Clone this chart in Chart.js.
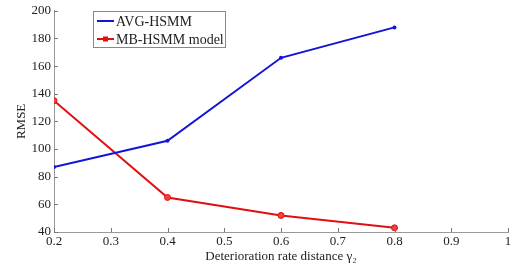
<!DOCTYPE html>
<html>
<head>
<meta charset="utf-8">
<script src="https://cdn.jsdelivr.net/npm/chart.js@4/dist/chart.umd.min.js"></script>
<style>
  html, body { margin: 0; padding: 0; background: #fff; }
  #wrap { width: 522px; height: 264px; }
</style>
</head>
<body>
<div id="wrap"><canvas id="rmseChart"></canvas></div>
<script>
var distances = [0.2, 0.4, 0.6, 0.8];
var avgHsmm = [87, 106, 166, 188];
var mbHsmm = [135, 65, 52, 43];
var seriesNames = ['AVG-HSMM', 'MB-HSMM model'];

var serif = '"Liberation Serif", "Times New Roman", serif';

// inward tick marks, like matlab
var innerTicks = {
    id: 'innerTicks',
    afterDraw: function(chart) {
        var ctx = chart.ctx, x = chart.scales.x, y = chart.scales.y;
        ctx.save();
        ctx.strokeStyle = '#777';
        ctx.lineWidth = 1;
        ctx.beginPath();
        x.ticks.forEach(function(t, i) {
            var px = Math.round(x.getPixelForTick(i)) + 0.5;
            ctx.moveTo(px, y.bottom);
            ctx.lineTo(px, y.bottom - 4);
        });
        y.ticks.forEach(function(t, i) {
            var py = Math.round(y.getPixelForTick(i)) + 0.5;
            ctx.moveTo(x.left, py);
            ctx.lineTo(x.left + 4, py);
        });
        ctx.stroke();
        ctx.restore();
    }
};

// boxed legend in upper left of the plot
var boxLegend = {
    id: 'boxLegend',
    afterDraw: function(chart) {
        var ctx = chart.ctx;
        var bx = 93, by = 11, bw = 132, bh = 36;
        ctx.save();
        ctx.fillStyle = '#fff';
        ctx.fillRect(bx, by, bw, bh);
        ctx.strokeStyle = '#888';
        ctx.lineWidth = 1;
        ctx.strokeRect(bx + 0.5, by + 0.5, bw, bh);
        ctx.font = '14px ' + serif;
        ctx.textBaseline = 'middle';
        chart.data.datasets.forEach(function(ds, i) {
            var ly = by + 10 + i * 18;
            ctx.strokeStyle = ds.borderColor;
            ctx.lineWidth = 2;
            ctx.beginPath();
            ctx.moveTo(97, ly);
            ctx.lineTo(114, ly);
            ctx.stroke();
            if (ds.pointRadius > 2) {
                ctx.fillStyle = ds.borderColor;
                ctx.fillRect(103, ly - 2.5, 5, 5);
            }
            ctx.fillStyle = '#222';
            ctx.fillText(ds.label, 116, ly + 1);
        });
        ctx.restore();
    }
};

var chart = new Chart(document.getElementById('rmseChart').getContext('2d'), {
    type: 'line',
    data: {
        datasets: [{
            label: seriesNames[0],
            data: distances.map(function(d, i) { return { x: d, y: avgHsmm[i] }; }),
            borderColor: '#1414d8',
            backgroundColor: '#1414d8',
            borderWidth: 2,
            pointRadius: 2,
            pointBorderWidth: 0,
            tension: 0
        }, {
            label: seriesNames[1],
            data: distances.map(function(d, i) { return { x: d, y: mbHsmm[i] }; }),
            borderColor: '#e01010',
            backgroundColor: '#f04040',
            borderWidth: 2,
            pointRadius: 3,
            pointBorderWidth: 1,
            tension: 0
        }]
    },
    options: {
        responsive: true,
        maintainAspectRatio: false,
        animation: false,
        layout: { padding: { left: 0, right: 14, top: 10, bottom: 0 } },
        plugins: { legend: { display: false }, tooltip: { enabled: false } },
        scales: {
            x: {
                type: 'linear',
                min: 0.2,
                max: 1,
                afterFit: function(s) { s.height = 32; },
                border: { color: '#999', width: 1 },
                grid: { drawOnChartArea: false, drawTicks: false },
                ticks: {
                    stepSize: 0.1,
                    padding: 2,
                    color: '#222',
                    font: { family: serif, size: 13 },
                    callback: function(v) { return v === 1 ? '1' : (+v).toFixed(1); }
                },
                title: {
                    display: true,
                    text: 'Deterioration rate distance γ₂',
                    color: '#222',
                    font: { family: serif, size: 13 },
                    padding: { top: -8, bottom: 0 }
                }
            },
            y: {
                min: 40,
                max: 200,
                afterFit: function(s) { s.width = 54; },
                border: { color: '#999', width: 1 },
                grid: { drawOnChartArea: false, drawTicks: false },
                ticks: {
                    stepSize: 20,
                    padding: 3,
                    color: '#222',
                    font: { family: serif, size: 13 }
                },
                title: {
                    display: true,
                    text: 'RMSE',
                    color: '#222',
                    font: { family: serif, size: 13 },
                    padding: { top: 14, bottom: 2 }
                }
            }
        }
    },
    plugins: [innerTicks, boxLegend]
});
</script>
</body>
</html>
